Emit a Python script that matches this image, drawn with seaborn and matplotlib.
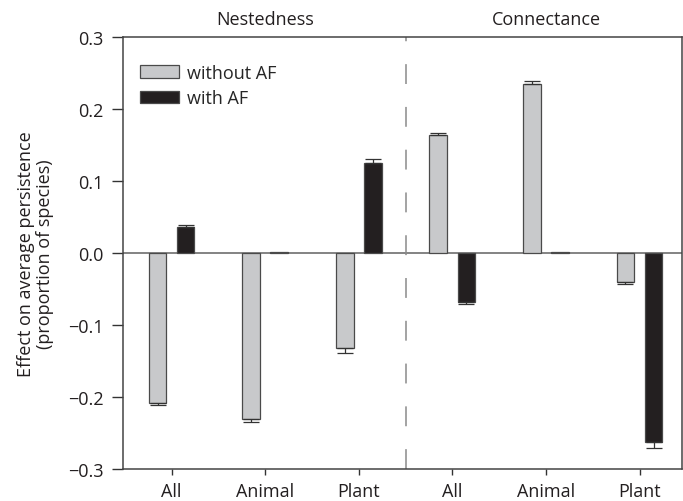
import numpy as np
import pandas as pd
import matplotlib
matplotlib.use('Agg')
import matplotlib.pyplot as plt
import seaborn as sns

# Data
groups = ['Nestedness', 'Connectance']
levels = ['All', 'Animal', 'Plant']
conditions = ['without AF', 'with AF']

without_af = [-0.208, -0.231, -0.132, 0.163, 0.234, -0.041]
with_af = [0.036, 0.001, 0.124, -0.069, 0.001, -0.263]
err_without = [0.004, 0.004, 0.007, 0.003, 0.004, 0.003]
err_with = [0.002, 0.0, 0.006, 0.002, 0.0, 0.008]

sns.set_style('ticks')
plt.rcParams['font.family'] = ['Open Sans', 'DejaVu Sans']

slots = [g + ' ' + l for g in groups for l in levels]
df = pd.DataFrame({
    'slot': slots * 2,
    'condition': [conditions[0]] * 6 + [conditions[1]] * 6,
    'value': without_af + with_af,
    'err': err_without + err_with,
})

fig, ax = plt.subplots(figsize=(6.83, 5.02), dpi=100)
fig.subplots_adjust(left=0.18, right=0.998, top=0.925, bottom=0.064)

palette = {'without AF': '#c8c9cb', 'with AF': '#231f20'}
sns.barplot(data=df, x='slot', y='value', hue='condition', order=slots,
            hue_order=conditions, palette=palette, width=0.6, gap=0.37,
            errorbar=None, edgecolor='#4a4a4a', linewidth=0.9, ax=ax,
            saturation=1)

# one-sided error bars, taken from the bar patches
for patch, (_, row) in zip(ax.patches, df.iterrows()):
    cx = patch.get_x() + patch.get_width() / 2
    v = row['value']
    if row['err'] <= 0:
        continue
    lower = [row['err']] if v < 0 else [0]
    upper = [row['err']] if v >= 0 else [0]
    ax.errorbar(cx, v, yerr=[lower, upper], fmt='none', ecolor='#333333',
                elinewidth=0.9, capsize=5.5, capthick=0.9)

ax.axhline(0, color='#7a7a7a', lw=1.3, zorder=0.5)
ax.axvline(2.5, color='#8a8a8a', lw=1.1, dashes=(13, 15))

ax.set_ylim(-0.3, 0.3)
ax.set_xlim(-0.52, 5.45)
yt = np.arange(-0.3, 0.31, 0.1)
ax.set_yticks(yt)
ax.set_yticklabels([f'{t:.1f}'.replace('-', '\u2212') for t in yt])
ax.set_xticks(range(6))
ax.set_xticklabels(levels * 2)
ax.tick_params(axis='y', length=8, width=1, colors='#333333', labelsize=13,
               labelcolor='#231f20', pad=6)
ax.tick_params(axis='x', length=4.3, width=1, colors='#333333', labelsize=13,
               labelcolor='#231f20', pad=5)
for s in ax.spines.values():
    s.set_color('#444444')
    s.set_linewidth(1.1)

ax.set_xlabel('')
ax.set_ylabel('Effect on average persistence\n(proportion of species)', fontsize=13,
              color='#231f20', labelpad=10, linespacing=1.05)

for i, g in enumerate(groups):
    ax.annotate(g, xy=(1 + 3 * i, 1), xycoords=('data', 'axes fraction'),
                xytext=(0, 6), textcoords='offset points', ha='center',
                va='bottom', fontsize=13, color='#231f20')

leg = ax.legend(loc='upper left', bbox_to_anchor=(0.03, 0.937), frameon=False,
                fontsize=13, handlelength=2.15, handleheight=0.67,
                handletextpad=0.45, labelspacing=0.4, borderaxespad=0,
                borderpad=0)

fig.savefig('out.png', dpi=100)
